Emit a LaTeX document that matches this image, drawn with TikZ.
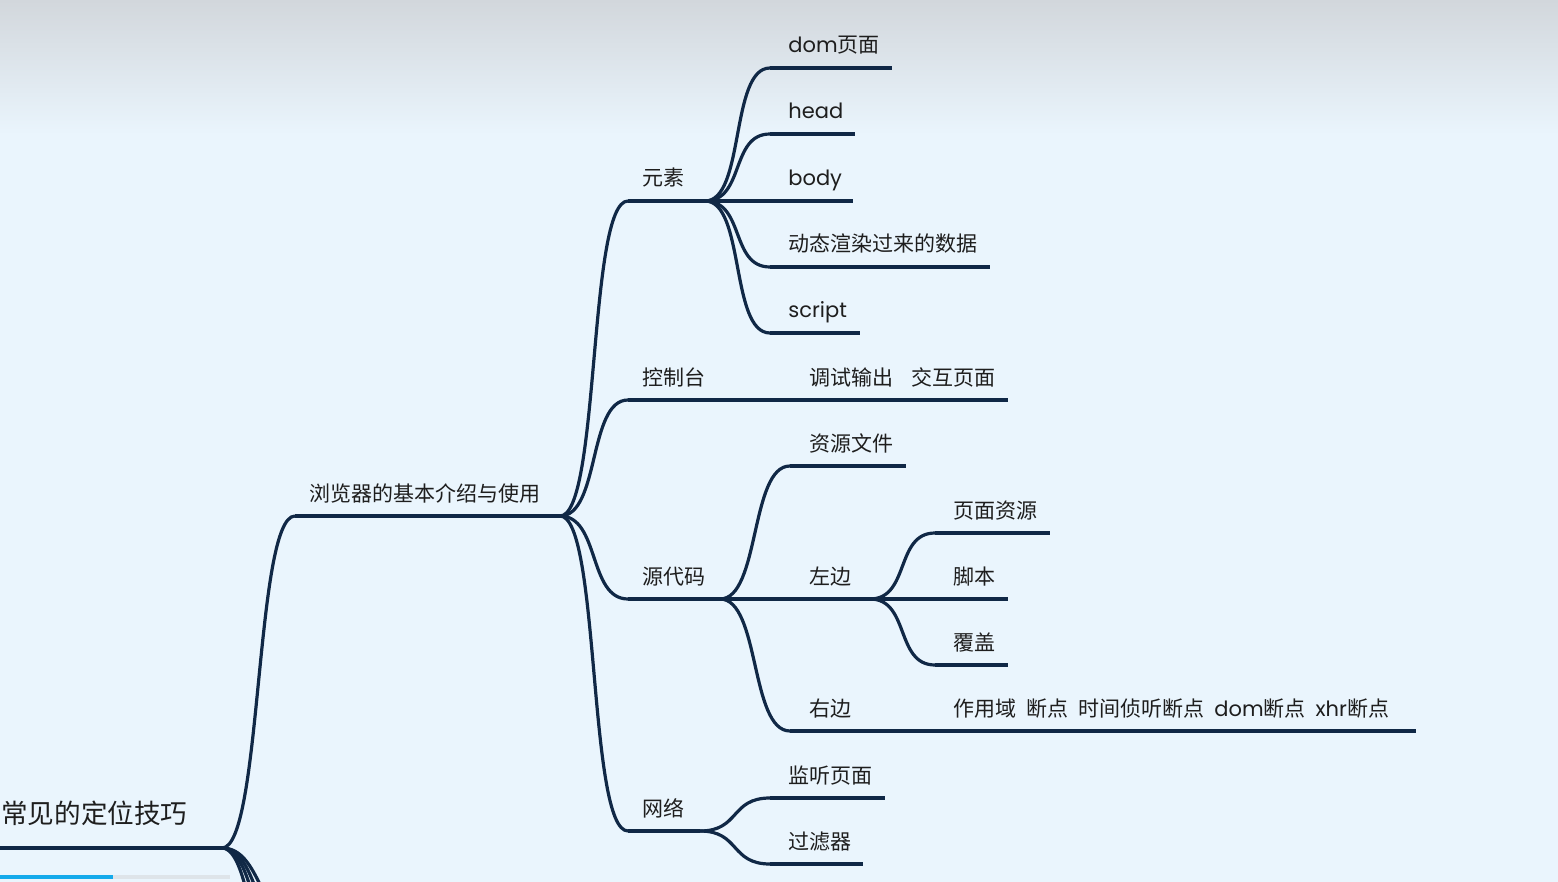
\documentclass[tikz,border=0pt]{standalone}
\usepackage{fontspec}
\setmainfont{Poppins}
\newfontfamily\cjk{Noto Sans CJK SC}
\definecolor{mindnavy}{RGB}{16,40,70}
\definecolor{mindbg}{RGB}{234,245,253}
\definecolor{mindtop}{RGB}{210,215,220}
\definecolor{mindtext}{RGB}{30,30,30}
\definecolor{mindcyan}{RGB}{20,170,235}
\definecolor{mindbar}{RGB}{222,228,233}
\newcommand\mgap{\hspace{5pt}}
\tikzset{
  stem/.style={mindnavy, line width=1.6pt},
  branch/.style={mindnavy, line width=1.6pt},
  topic/.style={anchor=base west, inner sep=0pt, text=mindtext,
    font=\fontsize{10.5}{12}\selectfont},
  maintopic/.style={topic, font=\fontsize{10.5}{12}\selectfont},
  roottopic/.style={topic, font=\fontsize{13.3}{15}\selectfont},
}

\begin{document}
\begin{tikzpicture}[x=0.5pt, y=-0.5pt]
    % canvas, 1 unit = 1 pixel of the screenshot
    \useasboundingbox (0,0) rectangle (1558,882);
    \clip (0,0) rectangle (1558,882);
    \fill[mindbg] (0,0) rectangle (1558,882);
    \shade[top color=mindtop, bottom color=mindbg] (0,0) rectangle (1558,135);

    % root and first level
    \coordinate (root-l) at (0,848);
    \coordinate (root-r) at (222,848);
    \node[roottopic] (root) at (1,823) {\cjk 常见的定位技巧};
    \draw[stem] (root-l) -- (root-r);

    \coordinate (browser-l) at (295,516);
    \coordinate (browser-r) at (560,516);
    \node[maintopic] (browser) at (309,501) {\cjk 浏览器的基本介绍与使用};
    \draw[stem] (browser-l) -- (browser-r);
    \draw[branch] (root-r) .. controls +(40,0) and +(-40,0) .. (browser-l);

    % the other branches of the root, cut by the bottom edge
    \foreach \i/\yy in {1/925, 2/960, 3/1010, 4/1100} {
      \coordinate (rootdown\i) at (300,\yy);
      \draw[branch] (root-r) .. controls +(40,0) and +(-40,0) .. (rootdown\i);
    }

    % second level
    \foreach \name/\xe/\yy/\txt in {elem/705/201/元素, console/795/400/控制台,
        source/720/599/源代码, net/700/831/网络} {
      \coordinate (\name-l) at (628,\yy);
      \coordinate (\name-r) at (\xe,\yy);
      \node[topic] (\name) at (642,\yy-15) {\cjk \txt};
      \draw[stem] (\name-l) -- (\name-r);
      \draw[branch] (browser-r) .. controls +(40,0) and +(-40,0) .. (\name-l);
    }

    % elements
    \foreach \i/\xe/\yy/\txt in {1/892/68/{dom{\cjk 页面}}, 2/855/134/head,
        3/853/201/body, 4/990/267/{{\cjk 动态渲染过来的数据}}, 5/860/333/script} {
      \coordinate (elem\i-l) at (770,\yy);
      \coordinate (elem\i-r) at (\xe,\yy);
      \node[topic] (elem\i) at (788,\yy-15) {\txt};
      \draw[stem] (elem\i-l) -- (elem\i-r);
      \draw[branch] (elem-r) .. controls +(40,0) and +(-40,0) .. (elem\i-l);
    }

    % console
    \coordinate (conout-r) at (1008,400);
    \node[topic] (conout) at (809,385) {\cjk 调试输出\hspace{9pt}交互页面};
    \draw[stem] (console-r) -- (conout-r);

    % sources
    \foreach \name/\xe/\yy/\txt in {files/906/466/资源文件, left/870/599/左边,
        right/935/731/右边} {
      \coordinate (\name-l) at (790,\yy);
      \coordinate (\name-r) at (\xe,\yy);
      \node[topic] (\name) at (809,\yy-15) {\cjk \txt};
      \draw[stem] (\name-l) -- (\name-r);
      \draw[branch] (source-r) .. controls +(40,0) and +(-40,0) .. (\name-l);
    }
    \foreach \i/\xe/\yy/\txt in {1/1050/533/页面资源, 2/1008/599/脚本, 3/1008/665/覆盖} {
      \coordinate (left\i-l) at (935,\yy);
      \coordinate (left\i-r) at (\xe,\yy);
      \node[topic] (left\i) at (953,\yy-15) {\cjk \txt};
      \draw[stem] (left\i-l) -- (left\i-r);
      \draw[branch] (left-r) .. controls +(40,0) and +(-40,0) .. (left\i-l);
    }
    \coordinate (rightout-r) at (1416,731);
    \node[topic] (rightout) at (953,716)
      {{\cjk 作用域\mgap 断点\mgap 时间侦听断点}\mgap dom{\cjk 断点}\mgap xhr{\cjk 断点}};
    \draw[stem] (right-r) -- (rightout-r);

    % network
    \foreach \i/\xe/\yy/\txt in {1/885/798/监听页面, 2/863/864/过滤器} {
      \coordinate (net\i-l) at (770,\yy);
      \coordinate (net\i-r) at (\xe,\yy);
      \node[topic] (net\i) at (788,\yy-15) {\cjk \txt};
      \draw[stem] (net\i-l) -- (net\i-r);
      \draw[branch] (net-r) .. controls +(40,0) and +(-40,0) .. (net\i-l);
    }

    % progress bar
    \fill[mindbar] (113,875) rectangle (230,879);
    \fill[mindcyan] (0,875) rectangle (113,879);
\end{tikzpicture}
\end{document}
